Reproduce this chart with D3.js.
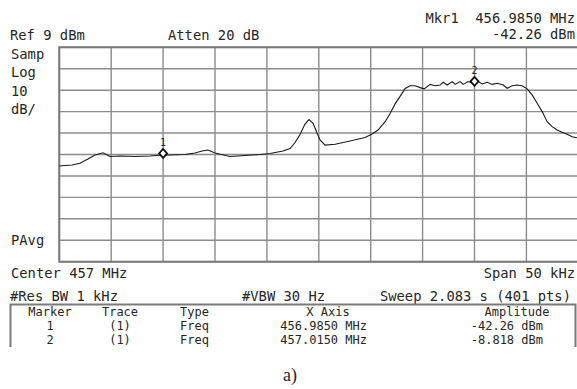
<!DOCTYPE html>
<html>
<head>
<meta charset="utf-8">
<script src="https://cdn.jsdelivr.net/npm/d3@7"></script>
<style>
  html, body { margin: 0; padding: 0; background: #fff; }
  svg { display: block; }
  text { font-family: "DejaVu Sans Mono", "Liberation Mono", monospace; fill: #262626; white-space: pre; }
</style>
</head>
<body>
<svg id="chart" width="577" height="389"></svg>
<script>
// ---- data ----
const centerMHz = 457;
const spanKHz = 50;
const refLevel = 9;        // dBm at top of screen
const dbPerDiv = 10;
// trace: frequency offset from center (kHz) and amplitude (dBm)
const traceFreqKHz = [-25.0, -24.45, -23.78, -23.01, -22.24, -21.56, -20.79, -20.12, -19.15, -17.71,
  -16.26, -15.11, -14.34, -12.89, -11.93, -11.25, -10.68, -10.0, -8.56, -7.11,
  -5.67, -4.70, -3.45, -2.77, -2.29, -1.81, -1.33, -0.94, -0.55, -0.17,
  0.12, 0.60, 1.57, 3.01, 4.46, 5.13, 5.71, 6.39, 6.87, 7.35,
  7.83, 8.32, 8.80, 9.28, 9.76, 10.15, 10.73, 11.21, 11.69, 11.98,
  12.37, 12.85, 13.14, 13.62, 13.91, 14.39, 14.87, 15.35, 15.74, 16.22,
  16.70, 17.18, 17.76, 18.15, 18.63, 19.11, 19.59, 20.07, 20.55, 21.04,
  21.52, 22.00, 22.48, 22.96, 23.44, 23.92, 24.41, 25.0];
const traceDBm = [-46.4, -46.1, -45.9, -45.1, -43.1, -41.2, -40.2, -41.9, -41.7, -41.9,
  -41.7, -41.2, -41.2, -41.0, -40.3, -39.4, -38.9, -40.3, -41.9, -41.5,
  -41.0, -40.5, -39.4, -38.2, -35.4, -31.7, -26.8, -24.7, -26.5, -31.0,
  -34.2, -36.6, -36.2, -34.7, -33.1, -31.4, -29.6, -25.7, -21.9, -17.4,
  -13.9, -10.2, -8.9, -8.9, -9.8, -10.4, -8.3, -8.9, -8.6, -7.3,
  -8.6, -7.0, -8.3, -7.0, -8.3, -7.0, -7.8, -7.0, -8.1, -7.3,
  -8.3, -7.8, -8.6, -10.1, -8.9, -8.6, -8.9, -10.4, -13.2, -17.1,
  -21.0, -25.7, -28.0, -29.6, -30.6, -31.6, -32.7, -33.3];
// markers
const markerIds = ["1", "2"];
const markerTrace = ["(1)", "(1)"];
const markerType = ["Freq", "Freq"];
const markerFreqMHz = [456.9850, 457.0150];
const markerAmpText = ["-42.26 dBm", "-8.818 dBm"];
// grid divisions
const xGridKHz = [-25, -20, -15, -10, -5, 0, 5, 10, 15, 20, 25];
const yGridDBm = [9, -1, -11, -21, -31, -41, -51, -61, -71, -81, -91];
// annotation text
const leftLabels = ["Samp", "Log", "10", "dB/"];

// ---- drawing ----
const svg = d3.select("#chart");
const x = d3.scaleLinear().domain([-spanKHz / 2, spanKHz / 2]).range([59.3, 578.3]);
const y = d3.scaleLinear().domain([refLevel, refLevel - 10 * dbPerDiv]).range([47.3, 261.7]);

const grid = svg.append("g");
grid.selectAll("line.v").data(xGridKHz).join("line")
  .attr("x1", d => x(d)).attr("x2", d => x(d))
  .attr("y1", y.range()[0]).attr("y2", y.range()[1])
  .attr("stroke", "#8c8c8c").attr("stroke-width", 1.4);
grid.selectAll("line.h").data(yGridDBm).join("line")
  .attr("x1", x.range()[0]).attr("x2", x.range()[1])
  .attr("y1", d => y(d)).attr("y2", d => y(d))
  .attr("stroke", "#8c8c8c").attr("stroke-width", 1.4);
// border
svg.append("rect")
  .attr("x", x.range()[0]).attr("y", y.range()[0])
  .attr("width", x.range()[1] - x.range()[0]).attr("height", y.range()[1] - y.range()[0])
  .attr("fill", "none").attr("stroke", "#7a7a7a").attr("stroke-width", 2);

// trace
const pts = traceFreqKHz.map((f, i) => [f, traceDBm[i]]);
const line = d3.line().x(d => x(d[0])).y(d => y(d[1]));
svg.append("path").datum(pts).attr("d", line)
  .attr("fill", "none").attr("stroke", "#1a1a1a").attr("stroke-width", 1.1);

// markers (placed on the trace at the marker frequency)
const interp = f => {
  const i = d3.bisector(d => d[0]).left(pts, f);
  const a = pts[Math.max(0, i - 1)], b = pts[Math.min(pts.length - 1, i)];
  const t = b[0] === a[0] ? 0 : (f - a[0]) / (b[0] - a[0]);
  return a[1] + t * (b[1] - a[1]);
};
markerFreqMHz.forEach((fm, i) => {
  const fk = (fm - centerMHz) * 1000;
  const cx = x(fk), cy = y(interp(fk)) - 1.5;
  svg.append("path")
    .attr("d", `M${cx},${cy - 4.5}L${cx + 4},${cy}L${cx},${cy + 4.5}L${cx - 4},${cy}Z`)
    .attr("fill", "#fff").attr("stroke", "#111").attr("stroke-width", 1.8);
  svg.append("text").attr("x", cx).attr("y", cy - 7).attr("text-anchor", "middle")
    .attr("font-size", 10).text(markerIds[i]);
});

// header text
const big = 13.8;
svg.append("text").attr("x", 10).attr("y", 40).attr("font-size", big).text(`Ref ${refLevel} dBm`);
svg.append("text").attr("x", 168).attr("y", 40).attr("font-size", big).text("Atten 20 dB");
svg.append("text").attr("x", 575).attr("y", 23).attr("text-anchor", "end").attr("font-size", big)
  .text(`Mkr1  ${markerFreqMHz[0].toFixed(4)} MHz`);
svg.append("text").attr("x", 575).attr("y", 39).attr("text-anchor", "end").attr("font-size", big)
  .text(markerAmpText[0]);
leftLabels.forEach((t, i) => {
  svg.append("text").attr("x", 11).attr("y", 59 + i * 18.3).attr("font-size", big).text(t);
});
svg.append("text").attr("x", 11).attr("y", 245).attr("font-size", big).text("PAvg");

// footer text
svg.append("text").attr("x", 11).attr("y", 278).attr("font-size", big).text(`Center ${centerMHz} MHz`);
svg.append("text").attr("x", 575).attr("y", 278).attr("text-anchor", "end").attr("font-size", big).text(`Span ${spanKHz} kHz`);
svg.append("text").attr("x", 10).attr("y", 301).attr("font-size", big).text("#Res BW 1 kHz");
svg.append("text").attr("x", 242).attr("y", 301).attr("font-size", big).text("#VBW 30 Hz");
svg.append("text").attr("x", 571).attr("y", 301).attr("text-anchor", "end").attr("font-size", big).text("Sweep 2.083 s (401 pts)");

// marker table
svg.append("path").attr("d", "M10.5,347V304.5H575.5V347")
  .attr("fill", "none").attr("stroke", "#7a7a7a").attr("stroke-width", 2);
const small = 12;
const cols = [
  { x: 50, anchor: "middle", head: "Marker", vals: markerIds },
  { x: 120, anchor: "middle", head: "Trace", vals: markerTrace },
  { x: 180, anchor: "start", head: "Type", vals: markerType },
  { x: 367, anchor: "end", head: null, vals: markerFreqMHz.map(f => f.toFixed(4) + " MHz") },
  { x: 543, anchor: "end", head: null, vals: markerAmpText }
];
cols.forEach(c => {
  if (c.head) svg.append("text").attr("x", c.x).attr("y", 316).attr("text-anchor", c.anchor).attr("font-size", small).text(c.head);
  c.vals.forEach((v, i) => {
    svg.append("text").attr("x", c.x).attr("y", 330 + i * 13.5).attr("text-anchor", c.anchor).attr("font-size", small).text(v);
  });
});
svg.append("text").attr("x", 328).attr("y", 316).attr("text-anchor", "middle").attr("font-size", small).text("X Axis");
svg.append("text").attr("x", 517).attr("y", 316).attr("text-anchor", "middle").attr("font-size", small).text("Amplitude");

// caption
svg.append("text").attr("x", 290).attr("y", 381).attr("text-anchor", "middle")
  .attr("font-size", 18).style("font-family", "'Liberation Serif', 'DejaVu Serif', serif").text("a)");
</script>
</body>
</html>
